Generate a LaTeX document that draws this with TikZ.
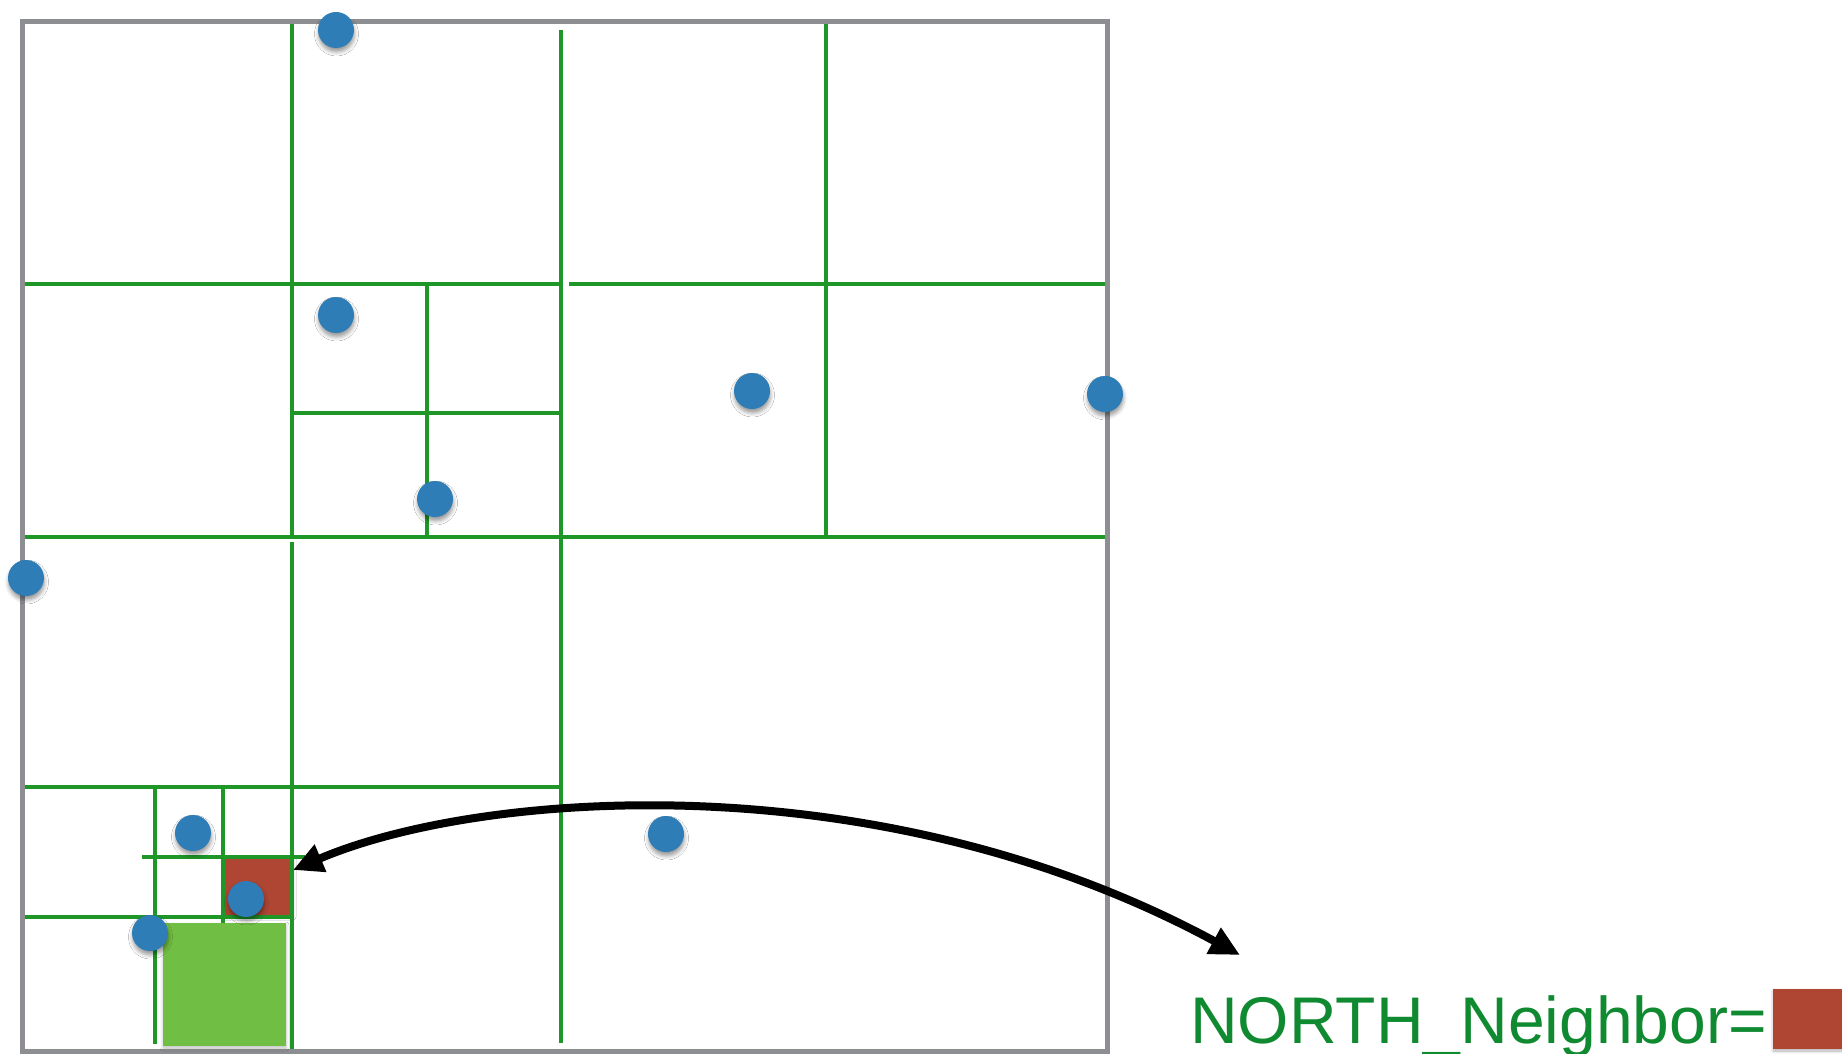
\documentclass[tikz,border=0pt]{standalone}
\usepackage{fontspec}
\setmainfont{Liberation Sans}
\usetikzlibrary{arrows.meta,shadows.blur}
\definecolor{framegray}{RGB}{140,142,146}
\definecolor{gridgreen}{RGB}{30,150,40}
\definecolor{dotblue}{RGB}{46,125,182}
\definecolor{nbrred}{RGB}{175,70,52}
\definecolor{leafgreen}{RGB}{113,190,68}
\definecolor{labelgreen}{RGB}{16,138,48}
\tikzset{
  frame/.style={draw=framegray,line width=5pt,fill=white},
  grid/.style={draw=gridgreen,line width=3.2pt},
  dot/.style={circle,fill=dotblue,minimum size=36pt,inner sep=0pt,
    blur shadow={shadow xshift=0.5pt,shadow yshift=-4pt,shadow blur radius=4pt,shadow opacity=40}},
  redsq/.style={rectangle,fill=nbrred,inner sep=0pt,
    blur shadow={shadow xshift=0pt,shadow yshift=-2pt,shadow blur radius=3pt,shadow opacity=30}},
  greensq/.style={rectangle,fill=leafgreen,inner sep=0pt,
    blur shadow={shadow xshift=0pt,shadow yshift=-2pt,shadow blur radius=3pt,shadow opacity=25}},
  tipshape/.tip={Triangle[length=30pt,width=28pt]},
  connector/.style={draw=black,line width=8pt,tipshape-tipshape},
  lbl/.style={text=labelgreen,font=\fontsize{66}{70}\selectfont,inner sep=0pt,anchor=base west}
}
\begin{document}
\begin{tikzpicture}[x=1pt,y=-1pt]
\useasboundingbox (0,0) rectangle (1842,1054);
% outer square
\path[frame] (22,22) rectangle (1107,1051);
% red neighbour cell
\node[redsq,minimum width=70pt,minimum height=58pt] (nbr) at (258,886) {};
% quadtree subdivision
\draw[grid] (292,22) -- (292,537);
\draw[grid] (292,542) -- (292,1051);
\draw[grid] (561,30) -- (561,1043);
\draw[grid] (826,22) -- (826,537);
\draw[grid] (22,284) -- (561,284);
\draw[grid] (569,284) -- (1107,284);
\draw[grid] (22,537) -- (1107,537);
\draw[grid] (427,285) -- (427,537);
\draw[grid] (292,413) -- (561,413);
\draw[grid] (25,787) -- (561,787);
\draw[grid] (155,789) -- (155,1044);
\draw[grid] (223,789) -- (223,923);
\draw[grid] (142,857) -- (305,857);
\draw[grid] (21,917) -- (293,917);
% redraw frame outline on top
\draw[draw=framegray,line width=5pt] (22,22) rectangle (1107,1051);
% query cell
\node[greensq,minimum width=123pt,minimum height=123pt] (query) at (224.5,984.5) {};
% points
\node[dot] (p1) at (336,30) {};
\node[dot] (p2) at (336,315) {};
\node[dot] (p3) at (435,499) {};
\node[dot] (p4) at (752,391) {};
\node[dot] (p5) at (1105,394) {};
\node[dot] (p6) at (26,578) {};
\node[dot] (p7) at (193,833) {};
\node[dot] (p8) at (666,834) {};
\node[dot] (p9) at (246,899) {};
\node[dot] (p10) at (150,933) {};
% label
\node[lbl] (label) at (1190,1043) {NORTH\_Neighbor=};
\node[redsq,minimum width=70pt,minimum height=60pt,anchor=west] (keynbr) at (1773,1019) {};
% arrow
\coordinate (aStart) at (293,870);
\coordinate (aEnd) at (1240,955);
\path[connector] (aStart) .. controls (480,790) and (880,760) .. (aEnd);
\end{tikzpicture}
\end{document}
